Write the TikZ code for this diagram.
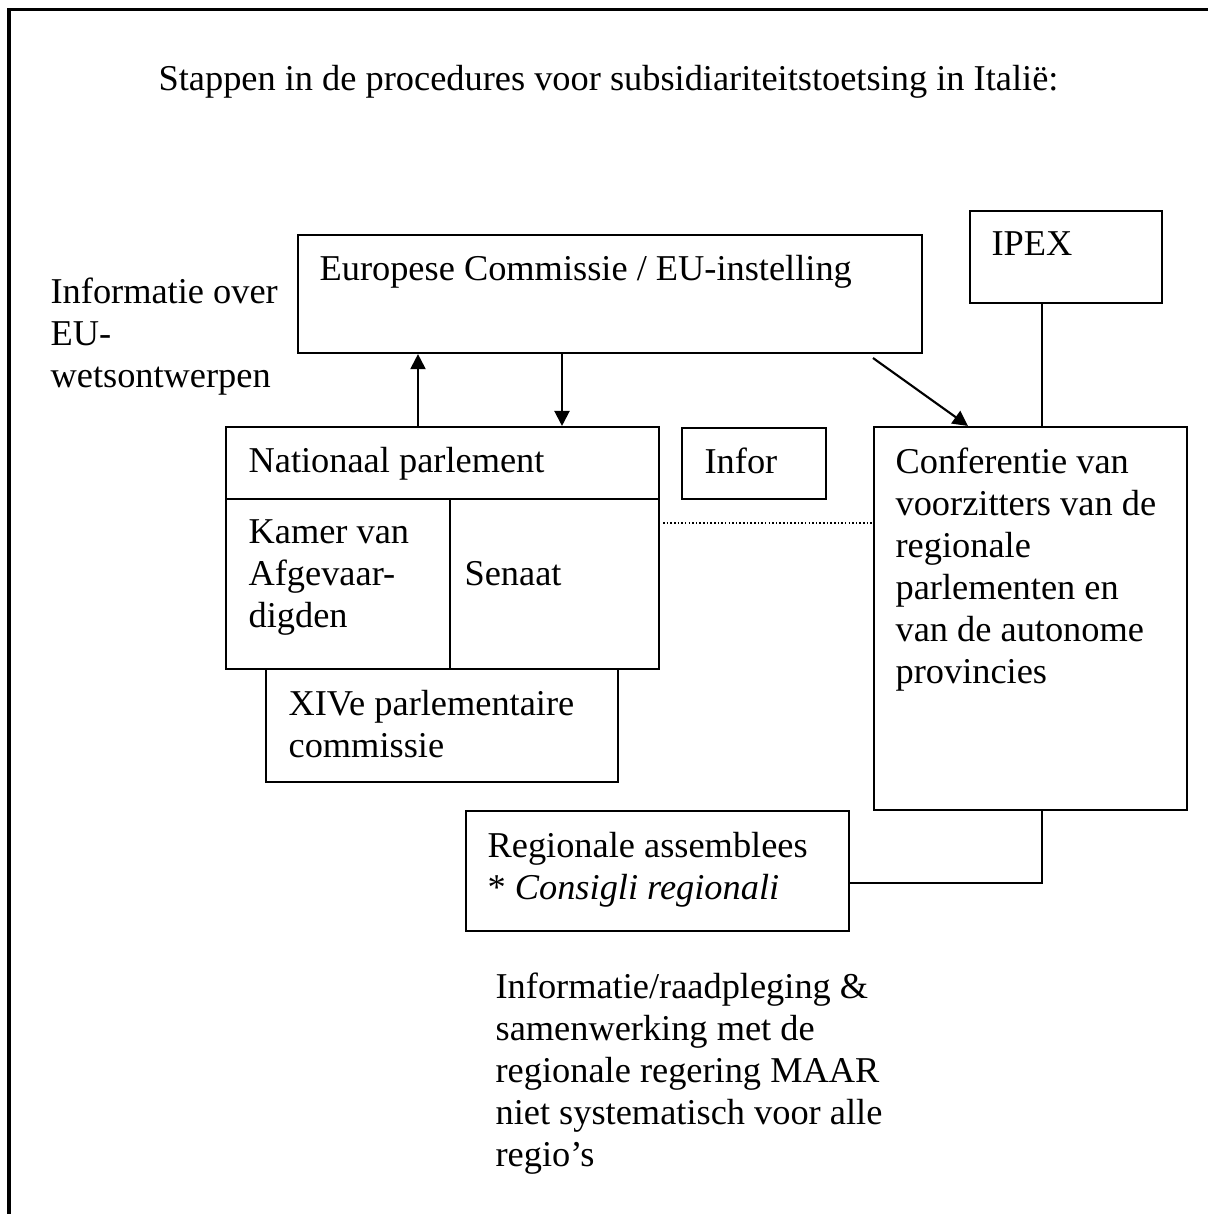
\documentclass[tikz,border=0pt]{standalone}
\usepackage{fontspec}
\setmainfont{Liberation Serif}
\usetikzlibrary{arrows.meta,fit}

\begin{document}
\begin{tikzpicture}[%
x=0.33pt, y=-0.33pt,
box/.style={draw, line width=0.7pt, inner sep=0pt},
lbl/.style={anchor=base west, inner sep=0pt, align=left, font=\fontsize{12}{13.85}\selectfont},
arr/.style={line width=0.7pt, -{Triangle[length=5pt,width=5pt]}},
]
\useasboundingbox (0,0) rectangle (1208,1214);
\draw [line width=1pt] (9,9) rectangle (1240,1240);
%% label (multi-line labels sit on their last baseline);
\node [lbl] (title) at (158,90) {Stappen in de procedures voor subsidiariteitstoetsing in Italië:};
%% box;
\node [box, fit={(298,235) (922,353)}] (ec) {};
\node [lbl] (ectext) at (319,280) {Europese Commissie / EU-instelling};
%% box;
\node [box, fit={(970,211) (1162,303)}] (ipex) {};
\node [lbl] (ipextext) at (991,255) {IPEX};
%% label;
\node [lbl] (info) at (50,387) {Informatie over\\EU-\\wetsontwerpen};
%% box;
\node [box, fit={(226,427) (659,499)}] (np) {};
\node [lbl] (nptext) at (248,472) {Nationaal parlement};
\node [box, fit={(226,499) (450,669)}] (kamer) {};
\node [lbl] (kamertext) at (248,627) {Kamer van\\Afgevaar-\\digden};
\node [box, fit={(450,499) (659,669)}] (senaat) {};
\node [lbl] (senaattext) at (464,585) {Senaat};
%% box;
\node [box, fit={(266,669) (618,782)}] (xiv) {};
\node [lbl] (xivtext) at (288,757) {XIVe parlementaire\\commissie};
%% box;
\node [box, fit={(682,428) (826,499)}] (infor) {};
\node [lbl] (infortext) at (704,473) {Infor};
%% box;
\node [box, fit={(874,427) (1187,810)}] (conf) {};
\node [lbl] (conftext) at (895,683) {Conferentie van\\voorzitters van de\\regionale\\parlementen en\\van de autonome\\provincies};
%% box;
\node [box, fit={(466,811) (849,931)}] (reg) {};
\node [lbl] (regtext) at (487,899) {Regionale assemblees\\* \textit{Consigli regionali}};
%% label;
\node [lbl] (note) at (495,1166) {Informatie/raadpleging \&\\samenwerking met de\\regionale regering MAAR\\niet systematisch voor alle\\regio's};
%% connectors;
\coordinate (up) at (418,0);
\coordinate (down) at (562,0);
\coordinate (diagfrom) at (873,358);
\coordinate (diagto) at (968,0);
\coordinate (link) at (1042,0);
\coordinate (dotrow) at (0,523);
\coordinate (regrow) at (0,883);
\draw [arr] (np.north -| up) -- (ec.south -| up);
\draw [arr] (ec.south -| down) -- (np.north -| down);
\draw [arr] (diagfrom) -- (conf.north -| diagto);
\draw [line width=0.7pt] (ipex.south -| link) -- (conf.north -| link);
\draw [line width=0.5pt, dash pattern=on 0.5pt off 0.7pt] ([xshift=1pt]senaat.east |- dotrow) -- (conf.west |- dotrow);
\draw [line width=0.7pt] (conf.south -| link) |- (reg.east |- regrow);
\end{tikzpicture}
\end{document}
